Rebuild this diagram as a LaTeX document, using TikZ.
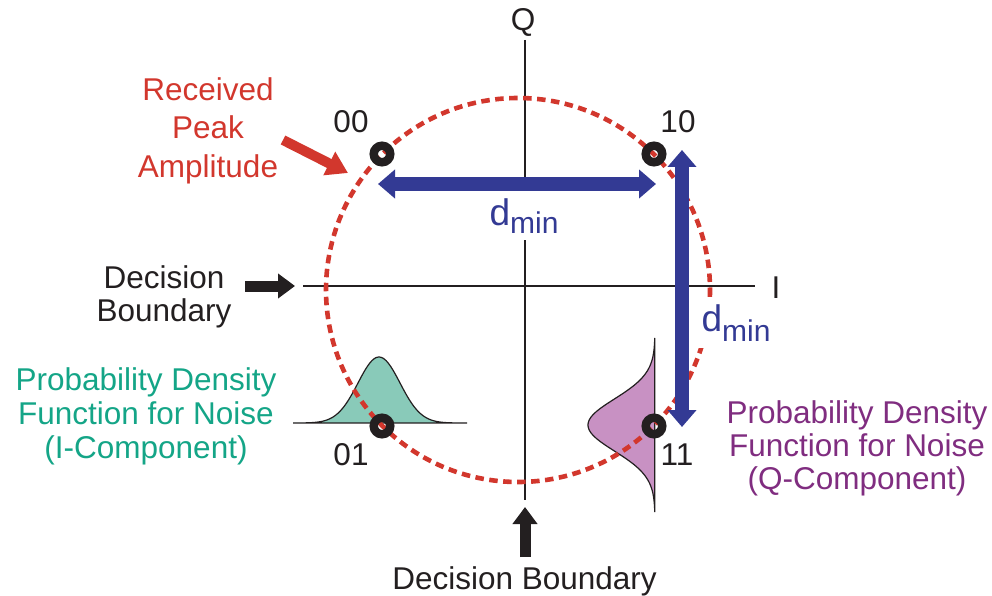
\documentclass[tikz,border=0pt]{standalone}
\usepackage{fontspec}
\setmainfont{Liberation Sans}
\usetikzlibrary{arrows.meta}
\definecolor{redc}{RGB}{210,55,45}
\definecolor{bluec}{RGB}{51,58,148}
\definecolor{greentext}{RGB}{20,165,135}
\definecolor{greenfill}{RGB}{137,202,185}
\definecolor{purpletext}{RGB}{128,45,128}
\definecolor{purplefill}{RGB}{200,145,195}
\definecolor{inkc}{RGB}{35,31,32}
\begin{document}
\begin{tikzpicture}[x=1pt,y=-1pt,
  txt/.style={inner sep=0pt, text=inkc, font=\fontsize{31.5}{33}\selectfont},
  block/.style={txt, align=center, anchor=north},
  marker/.style={circle, draw=inkc, line width=8.5pt, minimum size=16.5pt, inner sep=0pt, outer sep=0pt},
  axisline/.style={draw=inkc, line width=2.8pt},
  bluearrow/.style={draw=bluec, line width=14pt, {Triangle[width=28pt,length=17pt]}-{Triangle[width=28pt,length=17pt]}},
  blackarrow/.style={draw=inkc, line width=11pt, -{Triangle[width=24pt,length=17pt]}},
  redarrow/.style={draw=redc, line width=10pt, -{Triangle[width=25pt,length=21pt]}},
  dminlabel/.style={inner sep=7pt, fill=white, text=bluec, anchor=base},
  gauss/.style={draw=inkc, line width=1.2pt}
]
\useasboundingbox (0,0) rectangle (992,596);

% noise densities
\draw[gauss, fill=greenfill] plot[domain=293:467, samples=100] (\x, {423-66*exp(-((\x-379)^2)/882)}) -- cycle;
\draw[gauss, fill=purplefill] plot[domain=338:512, samples=100] ({655-67*exp(-((\x-425)^2)/1352)}, \x) -- cycle;

% axes
\coordinate (qtop) at (525,40);
\coordinate (qbot) at (525,500);
\coordinate (ileft) at (303,286);
\coordinate (iright) at (755,286);
\draw[axisline] (qtop) -- (qbot);
\draw[axisline] (ileft) -- (iright);

% received peak amplitude circle
\coordinate (cc) at (518,290);
\draw[redc, line width=4.6pt, dash pattern=on 8.5pt off 5.5pt] (cc) circle[radius=192];

% dmin labels
\node[dminlabel] (dmh) at (524,225) {\fontsize{37}{37}\selectfont d\raisebox{-8pt}{\fontsize{30}{30}\selectfont min}};
\node[dminlabel] (dmv) at (736,331) {\fontsize{37}{37}\selectfont d\raisebox{-10pt}{\fontsize{30}{30}\selectfont min}};

% blue distance arrows
\coordinate (hl) at (378,184);
\coordinate (hr) at (656,184);
\coordinate (vt) at (682,150);
\coordinate (vb) at (682,427);
\draw[bluearrow] (hl) -- (hr);
\draw[bluearrow] (vt) -- (vb);

% constellation points
\node[marker] (p00) at (382,154) {};
\node[marker] (p10) at (654,154) {};
\node[marker] (p01) at (382,426) {};
\node[marker] (p11) at (654,426) {};

% point labels
\node[txt, anchor=base] (l00) at (351,133) {00};
\node[txt, anchor=base] (l10) at (678,133) {10};
\node[txt, anchor=base] (l01) at (351,465) {01};
\node[txt, anchor=base] (l11) at (677,465) {11};

% axis labels
\node[txt, anchor=base] (lq) at (523,31) {Q};
\node[txt, anchor=base] (li) at (776,298) {I};

% red annotation
\node[block, text=redc, font=\fontsize{31.5}{38.5}\selectfont] (rpa) at (208,77) {Received\\Peak\\Amplitude};
\coordinate (rt) at (283,140);
\coordinate (rh) at (348,173);
\draw[redarrow] (rt) -- (rh);

% decision boundaries
\node[block] (dbl) at (164,265) {Decision\\Boundary};
\coordinate (dlt) at (245,286);
\coordinate (dlh) at (295,286);
\draw[blackarrow] (dlt) -- (dlh);
\node[txt, anchor=base] (dbb) at (524.5,589) {Decision Boundary};
\coordinate (dbt) at (525,557);
\coordinate (dbh) at (525,507);
\draw[blackarrow] (dbt) -- (dbh);

% pdf labels
\node[block, text=greentext, font=\fontsize{31.5}{34}\selectfont] (pdfi) at (146,367) {Probability Density\\Function for Noise\\(I-Component)};
\node[block, text=purpletext, font=\fontsize{31.5}{33}\selectfont] (pdfq) at (857,400) {Probability Density\\Function for Noise\\(Q-Component)};
\end{tikzpicture}
\end{document}
